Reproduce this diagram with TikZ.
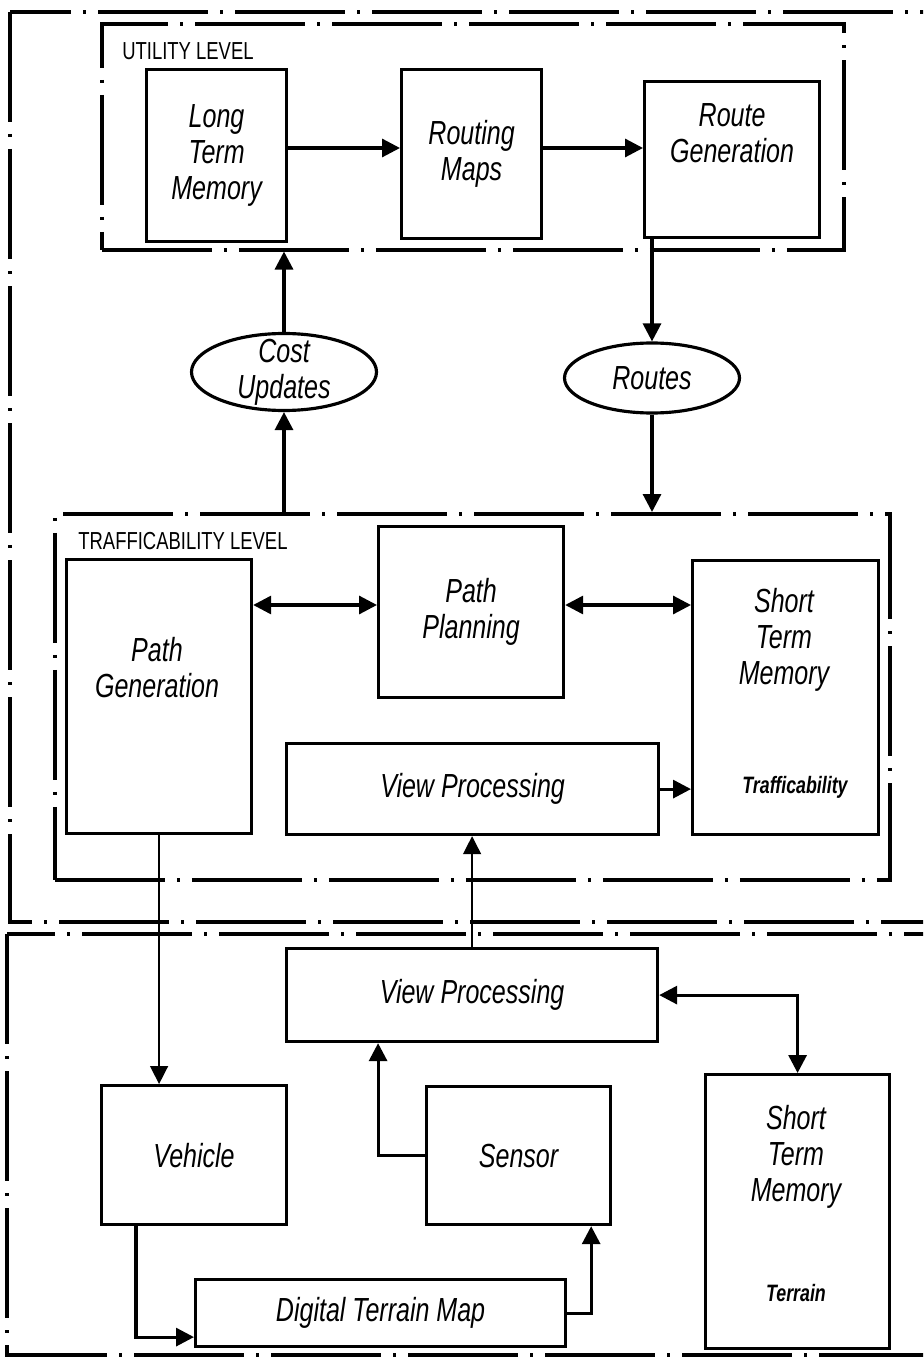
\documentclass[tikz,border=0pt]{standalone}
\usepackage{fontspec}
\setmainfont{Liberation Sans}[FakeStretch=0.75]
\usetikzlibrary{arrows.meta,shapes.geometric}

\newcommand\blkfont{\fontsize{19}{20.5}\selectfont\itshape}
\newcommand\lvlfont{\fontsize{14}{15}\selectfont}
\newcommand\smfont{\fontsize{13.5}{15}\selectfont\bfseries\itshape}

\tikzset{
  >={Triangle[length=3.6mm,width=3.6mm]},
  dashdotline/.style={line width=2pt, dash pattern={on 22mm off 2.4mm on 0.6mm off 2.4mm}},
  blk/.style 2 args={draw, line width=1.8pt, minimum width=#1*0.2mm, minimum height=#2*0.2mm,
    inner sep=0pt, align=center, font=\blkfont},
  level/.style 2 args={draw, dashdotline, minimum width=#1*0.2mm, minimum height=#2*0.2mm, inner sep=0pt},
  oval/.style 2 args={draw, ellipse, line width=1.8pt, minimum width=#1*0.2mm, minimum height=#2*0.2mm, inner sep=0pt},
  txt/.style={align=center, font=\blkfont, inner sep=0pt},
  flow/.style={line width=1.8pt},
  thinflow/.style={line width=0.8pt}
}

\begin{document}
\begin{tikzpicture}[x=0.2mm,y=-0.2mm]
\useasboundingbox (0,0) rectangle (923,1359);

% outer frames
\begin{scope}
\clip (0,0) rectangle (923,1359);
\draw[dashdotline] (10,12) rectangle (980,922);
\draw[dashdotline] (7,934) rectangle (980,1355);
\end{scope}

% utility level
\node[level={742}{226}, anchor=north west] (util) at (100,22) {};
\node[anchor=north west, font=\lvlfont, inner sep=0pt] (utillbl) at (122,42) {UTILITY LEVEL};
\node[blk={140}{172}, anchor=north west] (ltm) at (145,68) {Long\\Term\\Memory};
\node[blk={140}{169}, anchor=north west] (maps) at (400,68) {Routing\\Maps};
\node[blk={175}{156}, anchor=north west] (rg) at (643,80) {Route\\Generation\\[10pt]};

\draw[flow,->] (ltm.east |- 0,148) -- (maps.west |- 0,148);
\draw[flow,->] (maps.east |- 0,148) -- (rg.west |- 0,148);

% between the levels
\node[oval={185}{77}] (cost) at (284,372) {};
\node[txt] (costtxt) at (cost) {Cost\\Updates};
\node[oval={175}{70}] (routes) at (652,378) {};
\node[txt] (routestxt) at (routes) {Routes};

% trafficability level
\node[level={835}{366}, anchor=north west] (traff) at (53,512) {};
\node[anchor=north west, font=\lvlfont, inner sep=0pt] (trafflbl) at (78,532) {TRAFFICABILITY LEVEL};
\node[blk={185}{274}, anchor=north west] (pg) at (65,558) {};
\node[txt] (pgtxt) at (157,668) {Path\\Generation};
\node[blk={185}{171}, anchor=north west] (pp) at (377,525) {Path\\Planning};
\node[blk={186}{274}, anchor=north west] (stmT) at (691,559) {};
\node[txt] (stmTtxt) at (784,640) {Short\\Term\\Memory};
\node[font=\smfont, inner sep=0pt] (stmTsub) at (795,787) {Trafficability};
\node[blk={372}{91}, anchor=north west] (vpT) at (285,742) {View Processing};

\draw[flow,->] (cost.north) -- (cost.north |- util.south);
\draw[flow,->] (cost.south |- traff.north) -- (cost.south);
\draw[flow,->] (routes.north |- rg.south) -- (routes.north);
\draw[flow,->] (routes.south) -- (routes.south |- traff.north);

\draw[flow,<->] (pg.east |- 0,605) -- (pp.west |- 0,605);
\draw[flow,<->] (pp.east |- 0,605) -- (stmT.west |- 0,605);
\draw[flow,->] (vpT.east) -- (vpT.east -| stmT.west);

% lower level
\node[blk={371}{93}, anchor=north west] (vpL) at (285,947) {View Processing};
\node[blk={185}{139}, anchor=north west] (veh) at (100,1084) {Vehicle};
\node[blk={184}{138}, anchor=north west] (sens) at (425,1085) {Sensor};
\node[blk={184}{274}, anchor=north west] (stmL) at (704,1073) {};
\node[txt] (stmLtxt) at (796,1157) {Short\\Term\\Memory};
\node[font=\smfont, inner sep=0pt] (stmLsub) at (796,1293) {Terrain};
\node[blk={370}{67}, anchor=north west] (dtm) at (194,1278) {Digital Terrain Map};

\draw[thinflow,->] (pg.south) -- (pg.south |- veh.north);
\draw[thinflow,->] (vpL.north) -- (vpL.north |- vpT.south);
\draw[flow,<->] (vpL.east) -| (stmL.north);
\draw[flow,->] (sens.west) -| ([xshift=-18.8mm]vpL.south);
\draw[flow,->] ([xshift=7.2mm]veh.south west) |- ([yshift=-4.8mm]dtm.west);
\draw[flow,->] (dtm.east) -| ([xshift=-4.2mm]sens.south east);
\end{tikzpicture}
\end{document}
